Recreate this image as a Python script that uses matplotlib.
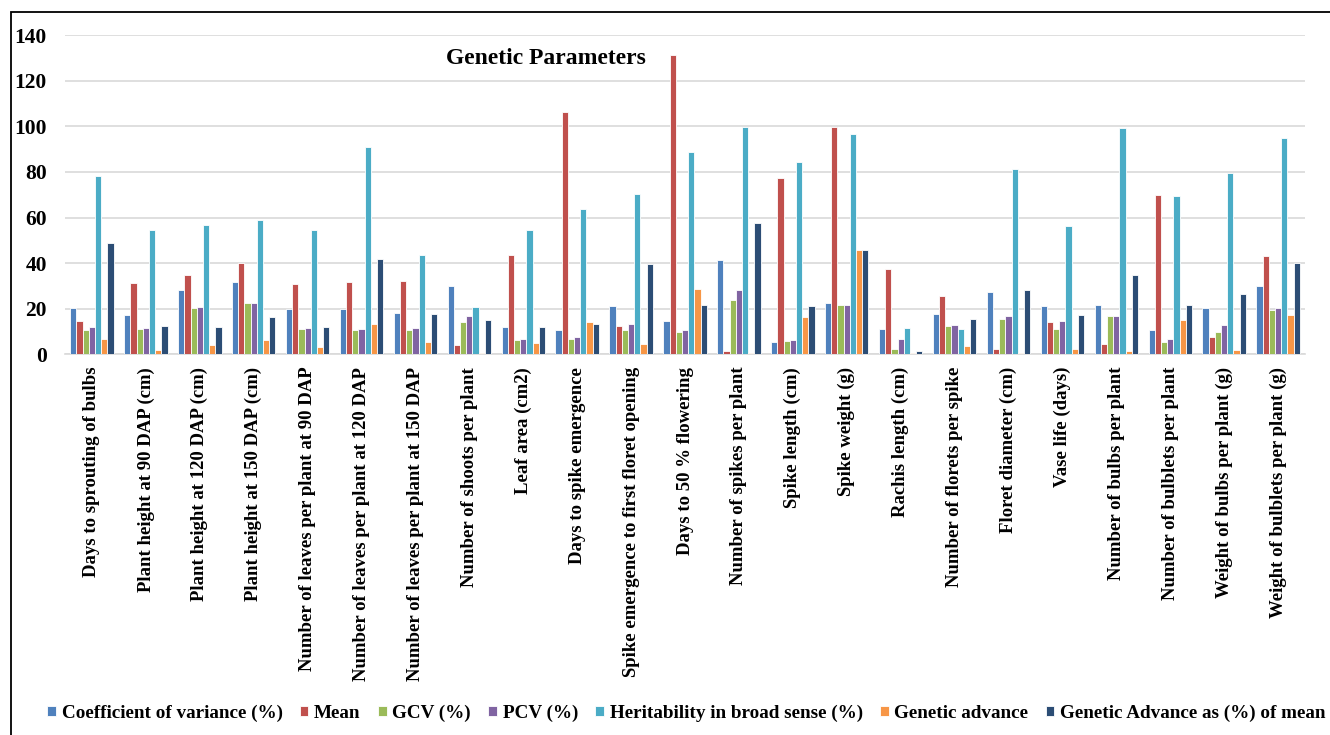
import numpy as np
import matplotlib
matplotlib.use("Agg")
from matplotlib import pyplot as plt
from matplotlib.patches import Rectangle

traits = ["Days to sprouting of bulbs", "Plant height at 90 DAP (cm)",
          "Plant height at 120 DAP (cm)", "Plant height at 150 DAP (cm)",
          "Number of leaves per plant at 90 DAP", "Number of leaves per plant at 120 DAP",
          "Number of leaves per plant at 150 DAP", "Number of shoots per plant",
          "Leaf area (cm2)", "Days to spike emergence",
          "Spike emergence to first floret opening", "Days to 50 % flowering",
          "Number of spikes per plant", "Spike length (cm)", "Spike weight (g)",
          "Rachis length (cm)", "Number of florets per spike", "Floret diameter (cm)",
          "Vase life (days)", "Number of bulbs per plant", "Number of bulblets per plant",
          "Weight of bulbs per plant (g)", "Weight of bulblets per plant (g)"]

cv = [20.3, 17.4, 28.4, 31.7, 20.0, 20.0, 18.1, 29.8, 12.0, 10.5, 21.1, 14.5,
      41.3, 5.4, 22.5, 11.0, 17.8, 27.2, 21.1, 21.5, 10.5, 20.3, 29.8]
mean = [14.6, 31.3, 35.0, 40.1, 30.7, 31.7, 32.0, 3.9, 43.7, 106.2, 12.4, 131.4,
        1.5, 77.2, 99.6, 37.3, 25.5, 2.5, 14.2, 4.4, 70.1, 7.6, 43.0]
gcv = [10.5, 11.3, 20.3, 22.5, 11.0, 10.8, 10.8, 14.2, 6.1, 6.9, 10.8, 9.8,
       24.0, 5.9, 21.8, 2.2, 12.4, 15.4, 11.0, 16.8, 5.4, 9.8, 19.6]
pcv = [12.0, 11.6, 20.8, 22.5, 11.6, 11.1, 11.6, 16.8, 6.9, 7.6, 13.2, 10.5,
       28.4, 6.1, 21.8, 6.6, 12.7, 16.8, 14.6, 16.8, 6.6, 12.7, 20.3]
herit = [78.4, 54.7, 56.9, 58.8, 54.7, 91.1, 43.7, 20.8, 54.7, 63.8, 70.4, 88.9,
         99.6, 84.3, 96.7, 11.6, 11.0, 81.2, 56.2, 99.2, 69.6, 79.7, 94.8]
ga = [6.9, 1.9, 3.9, 6.1, 3.2, 13.2, 5.4, 0.4, 5.1, 14.2, 4.7, 28.7,
      0.7, 16.4, 45.6, 0.4, 3.7, 0.4, 2.2, 1.5, 14.9, 1.8, 17.1]
gam = [48.9, 12.4, 12.0, 16.4, 12.0, 41.8, 17.8, 14.9, 12.0, 13.5, 39.4, 21.8,
       57.6, 21.1, 45.6, 1.5, 15.4, 28.4, 17.1, 34.7, 21.5, 26.6, 40.1]

series = [cv, mean, gcv, pcv, herit, ga, gam]
names = ["Coefficient of variance (%)", "Mean", "GCV (%)", "PCV (%)",
         "Heritability in broad sense (%)", "Genetic advance",
         "Genetic Advance as (%) of mean"]
colors = ["#4F81BD", "#C0504D", "#9BBB59", "#8064A2", "#4BACC6", "#F79646", "#2C4D75"]

plt.rcParams["font.family"] = ["Liberation Serif", "DejaVu Serif"]
plt.rcParams["font.weight"] = "bold"

fig = plt.figure(figsize=(13.3, 7.35), dpi=100)
ax = fig.add_axes([0.0489, 0.518, 0.9323, 0.434])

x = np.arange(len(traits))
w = 0.115
for i, (vals, nm, c) in enumerate(zip(series, names, colors)):
    ax.bar(x + (i - 3) * w, vals, w, color=c, label=nm,
           edgecolor="white", linewidth=0.6, zorder=3)

ax.set_xlim(-0.5, len(traits) - 0.5)
ax.set_ylim(0, 140)
ax.set_yticks(range(0, 141, 20))
ax.yaxis.grid(True, color="#d9d9d9", linewidth=1.2, zorder=0)
for s in ["top", "right", "left"]:
    ax.spines[s].set_visible(False)
ax.spines["bottom"].set_color("#d9d9d9")
ax.spines["bottom"].set_linewidth(1.2)
ax.tick_params(axis="both", length=0)
ax.tick_params(axis="y", labelsize=15.5, pad=13)
ax.set_xticks(x)
ax.set_xticklabels(traits, rotation=90, fontsize=13.5, fontweight="bold",
                   va="top", ha="center")
ax.tick_params(axis="x", pad=9)

fig.text(0.4105, 0.921, "Genetic Parameters", fontsize=17, fontweight="bold",
         ha="center", va="center")

fig.legend(loc="center", bbox_to_anchor=(0.516, 0.030), ncol=7, frameon=False,
           handlelength=0.45, handleheight=0.45, handletextpad=0.3,
           columnspacing=0.9, prop={"weight": "bold", "size": 13.8})

# outer chart border
fig.patches.append(Rectangle((11 / 1330, -0.1), 1.2, 1 - 12 / 735 + 0.1,
                             transform=fig.transFigure, fill=False,
                             edgecolor="black", linewidth=1.3))

fig.savefig("out.png", dpi=100)
